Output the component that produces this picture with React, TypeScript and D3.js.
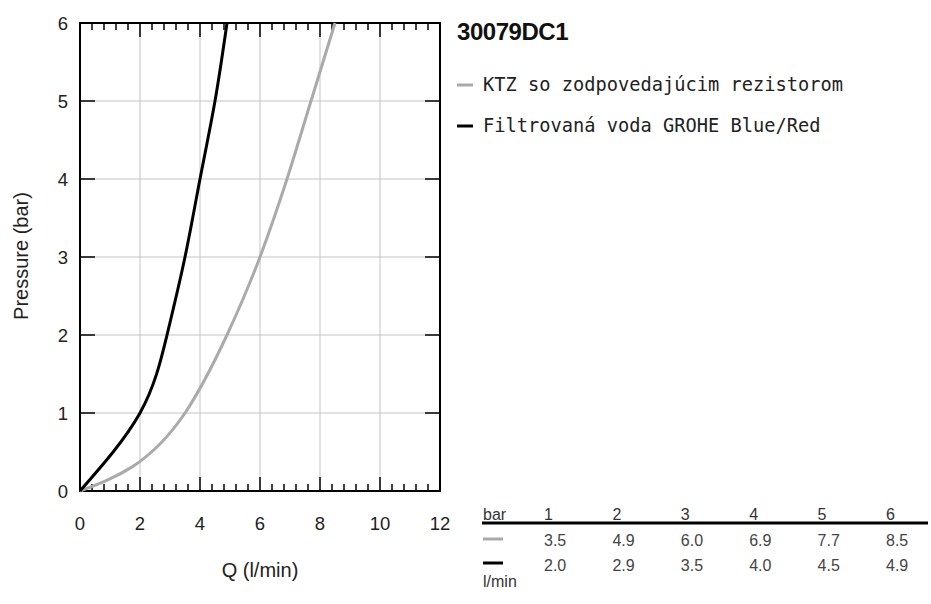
import React from "react";
import * as d3 from "d3";

const pressures = [0, 1, 2, 3, 4, 5, 6];
const ktzFlow = [0, 3.5, 4.9, 6.0, 6.9, 7.7, 8.5];
const blueFlow = [0, 2.0, 2.9, 3.5, 4.0, 4.5, 4.9];
const tableBars = ["1", "2", "3", "4", "5", "6"];
const tableKtz = ["3.5", "4.9", "6.0", "6.9", "7.7", "8.5"];
const tableBlue = ["2.0", "2.9", "3.5", "4.0", "4.5", "4.9"];
const xTicks = [0, 2, 4, 6, 8, 10, 12];
const yTicks = [0, 1, 2, 3, 4, 5, 6];
const title = "30079DC1";
const legendLabels = ["KTZ so zodpovedajúcim rezistorom", "Filtrovaná voda GROHE Blue/Red"];

const W = 931;
const H = 604;
const GRAY = "#aaaaaa";
const SANS = "Liberation Sans, Arial, sans-serif";
const MONO = "DejaVu Sans Mono, monospace";

export default function App() {
  const x = d3.scaleLinear().domain([0, 12]).range([80, 440]);
  const y = d3.scaleLinear().domain([0, 6]).range([491, 23]);
  const minorTicks = d3.range(0, 12.001, 0.4).map((v) => Math.round(v * 10) / 10).filter((v) => v > 0 && v < 12 && Math.abs(v / 2 - Math.round(v / 2)) > 1e-6);
  const majorX = xTicks.filter((v) => v > 0 && v < 12);
  const innerY = yTicks.filter((v) => v > 0 && v < 6);

  const grayLine = d3
    .line<number>()
    .x((d) => x(ktzFlow[d]))
    .y((d) => y(pressures[d]))
    .curve(d3.curveMonotoneX);
  const blackLine = d3
    .line<number>()
    .x((d) => x(blueFlow[d]))
    .y((d) => y(pressures[d]))
    .curve(d3.curveNatural);
  const idx = pressures.map((_, i) => i);

  const col = d3.scalePoint<string>().domain(tableBars).range([544, 886]);

  return (
    <svg width={W} height={H} style={{ position: "absolute", left: 0, top: 0, background: "#fff" }}>
      <rect x={0} y={0} width={W} height={H} fill="#fff" />
      {/* grid */}
      {majorX.map((v) => (
        <line key={"gx" + v} x1={x(v)} x2={x(v)} y1={y(0)} y2={y(6)} stroke="#c4c4c4" strokeWidth={1} />
      ))}
      {innerY.map((v) => (
        <line key={"gy" + v} x1={x(0)} x2={x(12)} y1={y(v)} y2={y(v)} stroke="#c4c4c4" strokeWidth={1} />
      ))}
      {/* ticks */}
      {minorTicks.map((v) => (
        <g key={"mt" + v}>
          <line x1={x(v)} x2={x(v)} y1={y(0)} y2={y(0) - 7} stroke="#000" strokeWidth={1.5} />
          <line x1={x(v)} x2={x(v)} y1={y(6)} y2={y(6) + 7} stroke="#000" strokeWidth={1.5} />
        </g>
      ))}
      {majorX.map((v) => (
        <g key={"Mt" + v}>
          <line x1={x(v)} x2={x(v)} y1={y(0)} y2={y(0) - 14} stroke="#000" strokeWidth={1.5} />
          <line x1={x(v)} x2={x(v)} y1={y(6)} y2={y(6) + 14} stroke="#000" strokeWidth={1.5} />
        </g>
      ))}
      {innerY.map((v) => (
        <g key={"yt" + v}>
          <line x1={x(0)} x2={x(0) + 15} y1={y(v)} y2={y(v)} stroke="#000" strokeWidth={1.5} />
          <line x1={x(12)} x2={x(12) - 15} y1={y(v)} y2={y(v)} stroke="#000" strokeWidth={1.5} />
        </g>
      ))}
      {/* frame */}
      <rect x={x(0)} y={y(6)} width={x(12) - x(0)} height={y(0) - y(6)} fill="none" stroke="#000" strokeWidth={2} />
      {/* curves */}
      <path d={grayLine(idx) || ""} fill="none" stroke={GRAY} strokeWidth={3} />
      <path d={blackLine(idx) || ""} fill="none" stroke="#000" strokeWidth={3} />
      {/* tick labels */}
      {yTicks.map((v) => (
        <text key={"yl" + v} x={68} y={y(v) + 6.5} textAnchor="end" fontFamily={SANS} fontSize={18.5} fill="#222">
          {v}
        </text>
      ))}
      {xTicks.map((v) => (
        <text key={"xl" + v} x={x(v)} y={530} textAnchor="middle" fontFamily={SANS} fontSize={18.5} fill="#222">
          {v}
        </text>
      ))}
      <text x={260} y={577} textAnchor="middle" fontFamily={SANS} fontSize={20} fill="#222">
        Q (l/min)
      </text>
      <text transform={`translate(28,256) rotate(-90)`} textAnchor="middle" fontFamily={SANS} fontSize={20} fill="#222">
        Pressure (bar)
      </text>
      {/* legend */}
      <text x={457} y={40} fontFamily={SANS} fontWeight="bold" fontSize={24} letterSpacing={-0.45} fill="#111">
        {title}
      </text>
      <line x1={457} x2={473} y1={85} y2={85} stroke={GRAY} strokeWidth={3} />
      <text x={483} y={91} fontFamily={MONO} fontSize={18.7} fill="#222">
        {legendLabels[0]}
      </text>
      <line x1={457} x2={473} y1={126} y2={126} stroke="#000" strokeWidth={3} />
      <text x={483} y={132} fontFamily={MONO} fontSize={18.7} fill="#222">
        {legendLabels[1]}
      </text>
      {/* table */}
      <text x={483} y={520} fontFamily={SANS} fontSize={16} fill="#333">
        bar
      </text>
      <line x1={482} x2={928} y1={523} y2={523} stroke="#000" strokeWidth={3} />
      {tableBars.map((b) => (
        <text key={"tb" + b} x={col(b)} y={520} fontFamily={SANS} fontSize={16} fill="#333">
          {b}
        </text>
      ))}
      <line x1={483} x2={503} y1={539} y2={539} stroke={GRAY} strokeWidth={3} />
      {tableKtz.map((v, i) => (
        <text key={"tk" + i} x={col(tableBars[i])} y={546} fontFamily={SANS} fontSize={16} fill="#444">
          {v}
        </text>
      ))}
      <line x1={483} x2={503} y1={563} y2={563} stroke="#000" strokeWidth={3} />
      {tableBlue.map((v, i) => (
        <text key={"tbl" + i} x={col(tableBars[i])} y={571} fontFamily={SANS} fontSize={16} fill="#444">
          {v}
        </text>
      ))}
      <text x={483} y={587} fontFamily={SANS} fontSize={16} fill="#333">
        l/min
      </text>
    </svg>
  );
}
